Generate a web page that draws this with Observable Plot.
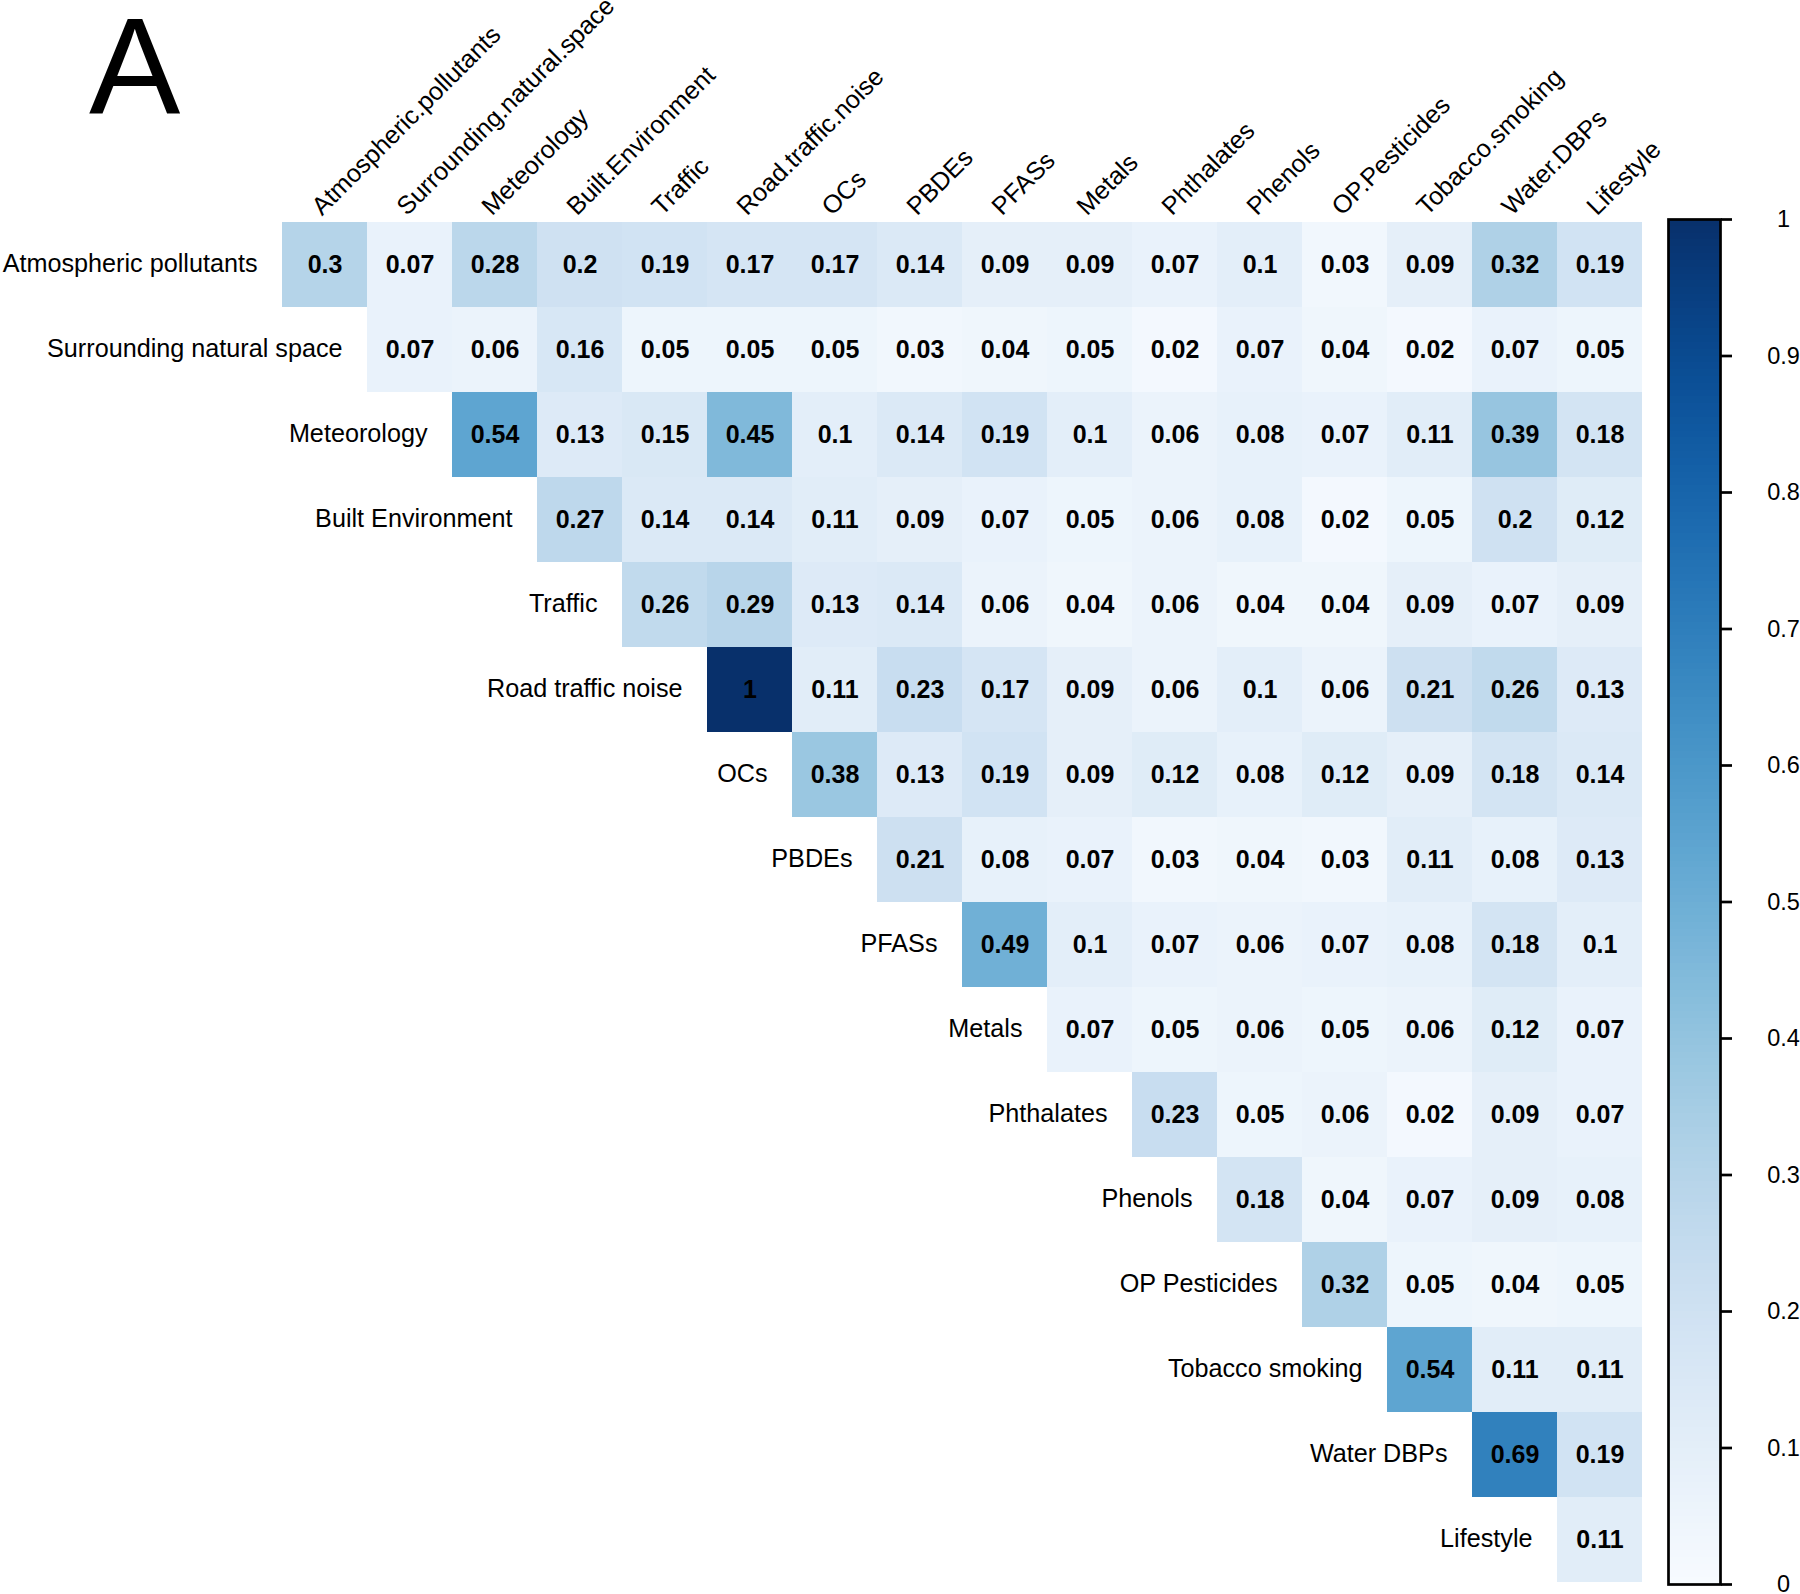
<!DOCTYPE html>
<html>
<head>
<meta charset="utf-8">
<script src="https://cdn.jsdelivr.net/npm/d3@7"></script>
<script src="https://cdn.jsdelivr.net/npm/@observablehq/plot@0.6"></script>
<style>
  html, body { margin: 0; padding: 0; background: #fff; }
  #wrap { position: relative; width: 1800px; height: 1594px; overflow: hidden; background: #fff; }
  #main { position: absolute; left: 0; top: 0; }
  #bar { position: absolute; left: 1600px; top: 0; }
</style>
</head>
<body>
<div id="wrap"><div id="main"></div><div id="bar"></div></div>
<script>
// Row labels (left of diagonal) and column labels (top, rotated)
const rowLabels = ["Atmospheric pollutants", "Surrounding natural space", "Meteorology", "Built Environment",
  "Traffic", "Road traffic noise", "OCs", "PBDEs", "PFASs", "Metals", "Phthalates", "Phenols",
  "OP Pesticides", "Tobacco smoking", "Water DBPs", "Lifestyle"];
const colLabels = ["Atmospheric.pollutants", "Surrounding.natural.space", "Meteorology", "Built.Environment",
  "Traffic", "Road.traffic.noise", "OCs", "PBDEs", "PFASs", "Metals", "Phthalates", "Phenols",
  "OP.Pesticides", "Tobacco.smoking", "Water.DBPs", "Lifestyle"];

// Upper-triangular values, one array per row, starting at the diagonal
const rowAtmospheric = [0.3, 0.07, 0.28, 0.2, 0.19, 0.17, 0.17, 0.14, 0.09, 0.09, 0.07, 0.1, 0.03, 0.09, 0.32, 0.19];
const rowSurrounding = [0.07, 0.06, 0.16, 0.05, 0.05, 0.05, 0.03, 0.04, 0.05, 0.02, 0.07, 0.04, 0.02, 0.07, 0.05];
const rowMeteorology = [0.54, 0.13, 0.15, 0.45, 0.1, 0.14, 0.19, 0.1, 0.06, 0.08, 0.07, 0.11, 0.39, 0.18];
const rowBuilt = [0.27, 0.14, 0.14, 0.11, 0.09, 0.07, 0.05, 0.06, 0.08, 0.02, 0.05, 0.2, 0.12];
const rowTraffic = [0.26, 0.29, 0.13, 0.14, 0.06, 0.04, 0.06, 0.04, 0.04, 0.09, 0.07, 0.09];
const rowNoise = [1, 0.11, 0.23, 0.17, 0.09, 0.06, 0.1, 0.06, 0.21, 0.26, 0.13];
const rowOCs = [0.38, 0.13, 0.19, 0.09, 0.12, 0.08, 0.12, 0.09, 0.18, 0.14];
const rowPBDEs = [0.21, 0.08, 0.07, 0.03, 0.04, 0.03, 0.11, 0.08, 0.13];
const rowPFASs = [0.49, 0.1, 0.07, 0.06, 0.07, 0.08, 0.18, 0.1];
const rowMetals = [0.07, 0.05, 0.06, 0.05, 0.06, 0.12, 0.07];
const rowPhthalates = [0.23, 0.05, 0.06, 0.02, 0.09, 0.07];
const rowPhenols = [0.18, 0.04, 0.07, 0.09, 0.08];
const rowOP = [0.32, 0.05, 0.04, 0.05];
const rowTobacco = [0.54, 0.11, 0.11];
const rowWater = [0.69, 0.19];
const rowLifestyle = [0.11];

const colorbarTicks = [0, 0.1, 0.2, 0.3, 0.4, 0.5, 0.6, 0.7, 0.8, 0.9, 1];

const rows = [rowAtmospheric, rowSurrounding, rowMeteorology, rowBuilt, rowTraffic, rowNoise, rowOCs,
  rowPBDEs, rowPFASs, rowMetals, rowPhthalates, rowPhenols, rowOP, rowTobacco, rowWater, rowLifestyle];

const cells = [];
rows.forEach((vals, i) => vals.forEach((v, k) => {
  cells.push({row: rowLabels[i], col: colLabels[i + k], value: v});
}));
const diag = rowLabels.map((r, i) => ({row: r, col: colLabels[i]}));

const font = "'Liberation Sans', Arial, Helvetica, sans-serif";
const color = {type: "linear", scheme: "blues", domain: [0, 1]};

const main = Plot.plot({
  width: 1800,
  height: 1594,
  marginLeft: 279.5,
  marginRight: 155,
  marginTop: 219,
  marginBottom: 10,
  style: {fontFamily: font, background: "white"},
  x: {domain: colLabels, padding: 0, axis: null},
  y: {domain: rowLabels, padding: 0, axis: null},
  color,
  marks: [
    Plot.cell(cells, {x: "col", y: "row", fill: "value", inset: 0}),
    Plot.text(cells, {x: "col", y: "row", text: d => String(d.value), fontWeight: "bold", fontSize: 25, fill: "black"}),
    Plot.text(diag, {x: "col", y: "row", text: "row", dx: -67.5, dy: -1, textAnchor: "end", fontSize: 25.2, fill: "black"}),
    Plot.text(colLabels, {x: d => d, y: () => rowLabels[0], text: d => d, dx: -3, dy: -48.5, rotate: -45,
      textAnchor: "start", lineAnchor: "bottom", fontSize: 25.2, fill: "black"}),
    Plot.text(["A"], {frameAnchor: "top-left", text: d => d, dx: -191, dy: -106, lineAnchor: "bottom",
      textAnchor: "start", fontSize: 137, fill: "black"})
  ]
});
document.getElementById("main").appendChild(main);

const stops = d3.range(0, 1, 0.005);
const bar = Plot.plot({
  width: 200,
  height: 1594,
  marginLeft: 68,
  marginRight: 80,
  marginTop: 219,
  marginBottom: 10,
  style: {fontFamily: font, background: "transparent", overflow: "visible"},
  x: {domain: [0, 1], axis: null},
  y: {domain: [0, 1]},
  color,
  marks: [
    Plot.rect(stops, {x1: 0, x2: 1, y1: d => d, y2: d => Math.min(1, d + 0.008), fill: d => d + 0.0025,
      shapeRendering: "crispEdges"}),
    Plot.frame({stroke: "black", strokeWidth: 2.7}),
    Plot.axisY(colorbarTicks, {anchor: "right", tickSize: 11, tickPadding: 52, textAnchor: "middle",
      fontSize: 23.5, strokeWidth: 2.7, stroke: "black", fill: "black", label: null,
      tickFormat: d => String(d)})
  ]
});
document.getElementById("bar").appendChild(bar);
</script>
</body>
</html>
